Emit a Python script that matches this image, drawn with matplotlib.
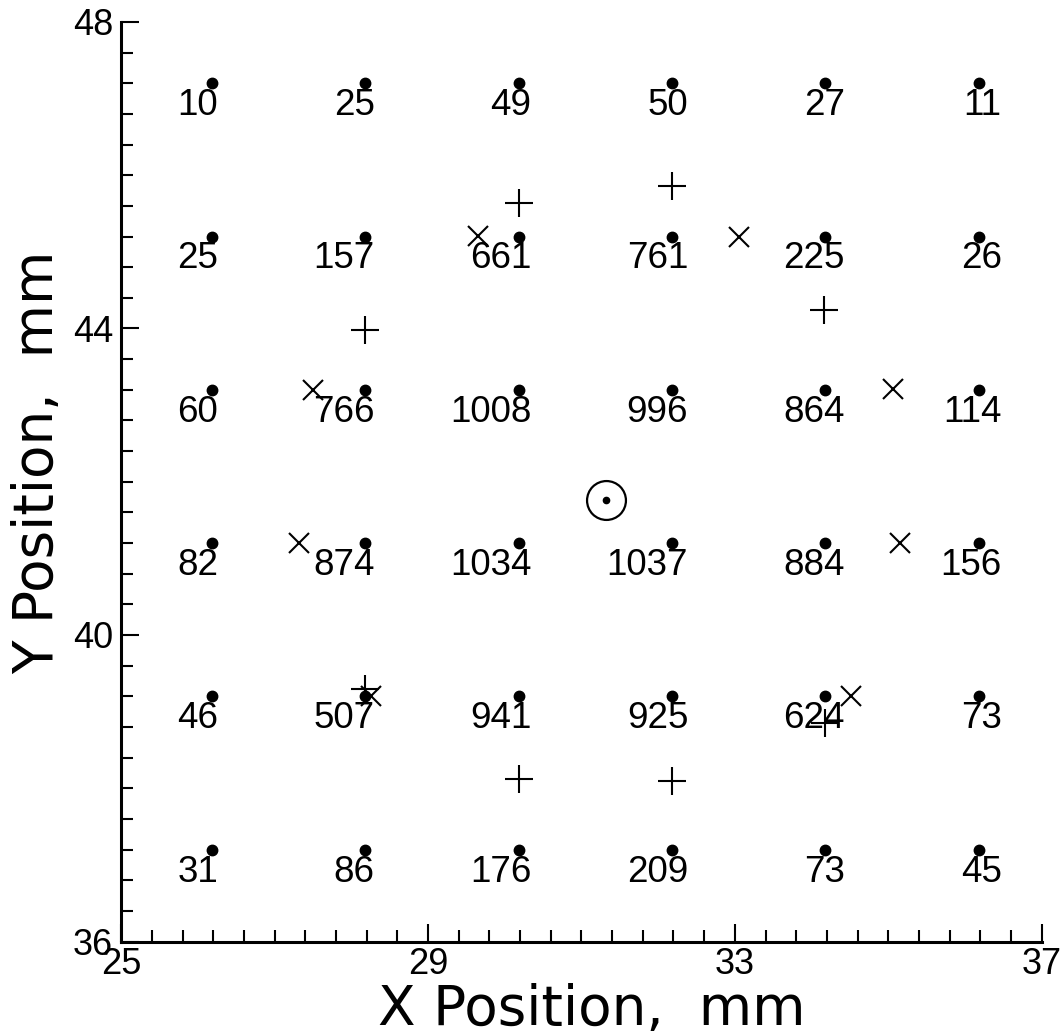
import matplotlib
matplotlib.use("Agg")
import matplotlib.pyplot as plt
from matplotlib.ticker import FixedLocator
import numpy as np

# ---- data ----
grid_x = [26.18, 28.18, 30.18, 32.18, 34.18, 36.18]
grid_y = [47.2, 45.2, 43.2, 41.2, 39.2, 37.2]
counts = [
    [10, 25, 49, 50, 27, 11],
    [25, 157, 661, 761, 225, 26],
    [60, 766, 1008, 996, 864, 114],
    [82, 874, 1034, 1037, 884, 156],
    [46, 507, 941, 925, 624, 73],
    [31, 86, 176, 209, 73, 45],
]
plus_x = [30.18, 32.18, 28.18, 34.16, 28.18, 30.18, 32.18, 34.18]
plus_y = [45.64, 45.86, 43.98, 44.24, 39.30, 38.12, 38.10, 38.85]
cross_x = [29.65, 33.05, 27.50, 35.06, 27.31, 35.15, 28.25, 34.52]
cross_y = [45.21, 45.20, 43.20, 43.21, 41.20, 41.20, 39.20, 39.20]
center_x = [31.32]
center_y = [41.76]

x_major = [25, 29, 33, 37]
y_major = [36, 40, 44, 48]

xlabel = "X Position,  mm"
ylabel = "Y Position,  mm"

fig = plt.figure(figsize=(10.62, 10.36), dpi=100)
ax = fig.add_axes([0.1144, 0.0912, 0.8663, 0.8876])
ax.set_xlim(25, 37)
ax.set_ylim(36, 48)

for s in ["top", "right"]:
    ax.spines[s].set_visible(False)
for s in ["left", "bottom"]:
    ax.spines[s].set_linewidth(2.2)

ax.xaxis.set_major_locator(FixedLocator(x_major))
ax.xaxis.set_minor_locator(FixedLocator(np.linspace(25, 37, 31)))
ax.yaxis.set_major_locator(FixedLocator(y_major))
ax.yaxis.set_minor_locator(FixedLocator(np.linspace(36, 48, 31)))
ax.tick_params(which="major", direction="in", length=13, width=1.5,
               labelsize=26, pad=4)
ax.tick_params(which="minor", direction="in", length=8.6, width=1.5)
ax.tick_params(axis="y", which="major", pad=6)
for lab in ax.get_xticklabels() + ax.get_yticklabels():
    lab.set_fontfamily("Liberation Sans")

# dots and labels
gx, gy = np.meshgrid(grid_x, grid_y)
ax.plot(gx.ravel(), gy.ravel(), "o", color="black", markersize=7.5,
        clip_on=False, zorder=3)
for i, yv in enumerate(grid_y):
    for j, xv in enumerate(grid_x):
        lx = 1.022 * xv - 0.496
        ax.annotate(str(counts[i][j]), xy=(lx, yv), xytext=(0, -23),
                    textcoords="offset points", ha="right", va="baseline",
                    fontsize=26.5, family="Liberation Sans", color="black")

ax.plot(plus_x, plus_y, "+", color="black", markersize=20,
        markeredgewidth=1.5, clip_on=False, zorder=4)
ax.plot(cross_x, cross_y, "x", color="black", markersize=14,
        markeredgewidth=1.5, clip_on=False, zorder=4)
ax.plot(center_x, center_y, "o", markerfacecolor="none",
        markeredgecolor="black", markersize=28, markeredgewidth=1.6, zorder=4)
ax.plot(center_x, center_y, "o", color="black", markersize=4.5, zorder=4)

fig.text(0.5574, 0.0106, xlabel, ha="center", va="baseline",
         fontsize=39.5, family="DejaVu Sans")
fig.text(0.0104, 0.554, ylabel, ha="left", va="center", rotation=90,
         fontsize=39.5, family="DejaVu Sans")

fig.savefig("out.png", dpi=100)
